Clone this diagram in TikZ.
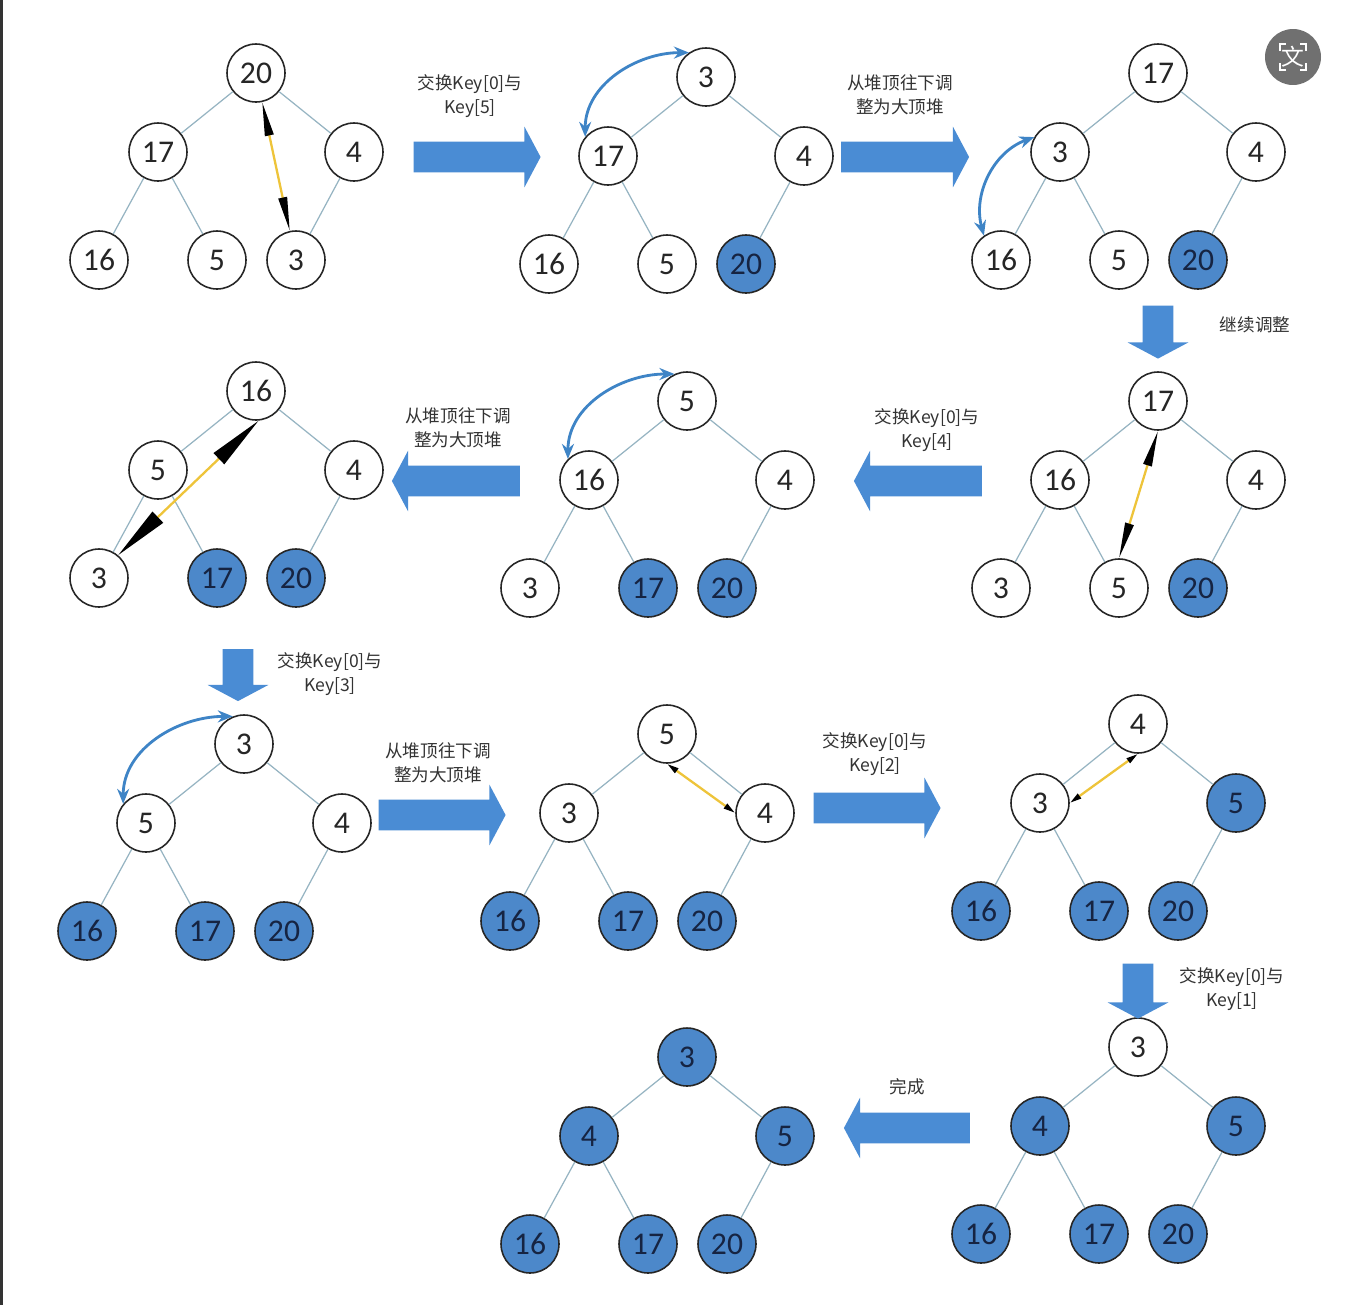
\documentclass[tikz,border=0pt]{standalone}
\usepackage{fontspec}
\setmainfont{Carlito}
\newfontfamily\cjk{Noto Sans CJK SC}
\usetikzlibrary{shapes.arrows,arrows.meta,positioning}
\definecolor{heapblue}{RGB}{76,136,202}
\definecolor{arrowblue}{RGB}{74,140,212}
\definecolor{curveblue}{RGB}{62,132,198}
\definecolor{linkgrey}{RGB}{150,180,194}
\definecolor{swapyellow}{RGB}{238,196,58}
\definecolor{navy}{RGB}{22,36,66}
\definecolor{icongrey}{RGB}{112,112,112}

% one heap: name, root x, root y, list of value/style (array order)
\newcommand{\heaptree}[4]{%
  \begin{scope}[shift={(#2,#3)}]
    \foreach \val/\sty [count=\k from 0] in {#4} {
      \pgfmathsetmacro{\dx}{{0,-98,98,-157,-39,40}[\k]}
      \pgfmathsetmacro{\dy}{{0,79,79,187,187,187}[\k]}
      \node[\sty] (#1-\k) at (\dx,\dy) {\val};
    }
    \draw[link] (#1-0) -- (#1-1) (#1-0) -- (#1-2)
                (#1-1) -- (#1-3) (#1-1) -- (#1-4) (#1-2) -- (#1-5);
  \end{scope}}

\begin{document}
\begin{tikzpicture}[x=0.02cm, y=-0.02cm,
    wnode/.style={circle, draw=black!85, line width=0.9pt, fill=white, minimum size=1.16cm,
                  inner sep=0pt, font=\fontsize{18}{20}\selectfont, text=black!85},
    bnode/.style={wnode, fill=heapblue, text=navy},
    link/.style={draw=linkgrey, line width=0.7pt},
    blockarrow/.style={single arrow, fill=arrowblue, draw=none, minimum width=1.2cm,
                       single arrow head extend=0.3cm, single arrow tip angle=124,
                       inner xsep=0pt, inner ysep=0.3cm},
    note/.style={font={\cjk\fontsize{10}{13.6}\selectfont}, align=center, text=black!80, inner sep=1pt},
    swapline/.style 2 args={draw=swapyellow, line width=1.3pt,
                  {Triangle[color=black,length=#1,width=#2]}-{Triangle[color=black,length=#1,width=#2]}},
    curl/.style={draw=curveblue, line width=1.6pt,
                 {Stealth[length=0.3cm,width=0.24cm]}-{Stealth[length=0.3cm,width=0.24cm]}}
]
    \useasboundingbox (0,0) rectangle (1353,1305);
    \fill[white] (0,0) rectangle (1353,1305);
    \fill[black!80] (0,0) rectangle (3,1305);

    % Row 1
    \heaptree{t1}{256}{73}{20/wnode,17/wnode,4/wnode,16/wnode,5/wnode,3/wnode}
    \heaptree{t2}{706}{77}{3/wnode,17/wnode,4/wnode,16/wnode,5/wnode,20/bnode}
    \heaptree{t3}{1158}{73}{17/wnode,3/wnode,4/wnode,16/wnode,5/wnode,20/bnode}

    % Row 2
    \heaptree{t4}{1158}{401}{17/wnode,16/wnode,4/wnode,3/wnode,5/wnode,20/bnode}
    \heaptree{t5}{687}{401}{5/wnode,16/wnode,4/wnode,3/wnode,17/bnode,20/bnode}
    \heaptree{t6}{256}{391}{16/wnode,5/wnode,4/wnode,3/wnode,17/bnode,20/bnode}

    % Row 3
    \heaptree{t7}{244}{744}{3/wnode,5/wnode,4/wnode,16/bnode,17/bnode,20/bnode}
    \heaptree{t8}{667}{734}{5/wnode,3/wnode,4/wnode,16/bnode,17/bnode,20/bnode}
    \heaptree{t9}{1138}{724}{4/wnode,3/wnode,5/bnode,16/bnode,17/bnode,20/bnode}

    % Row 4
    \heaptree{t10}{1138}{1047}{3/wnode,4/bnode,5/bnode,16/bnode,17/bnode,20/bnode}
    \heaptree{t11}{687}{1057}{3/bnode,4/bnode,5/bnode,16/bnode,17/bnode,20/bnode}

    % Swaps of key[0] with the last key
    \draw[swapline={0.68cm}{0.17cm}] (t1-0) -- (t1-5);
    \draw[swapline={0.72cm}{0.17cm}] (t4-0.south) -- (t4-4.north);
    \draw[swapline={1.1cm}{0.3cm}] (t6-0.275) -- (t6-3.50);
    \draw[swapline={0.24cm}{0.11cm}] (t8-0.south) -- (t8-2.west);
    \draw[swapline={0.24cm}{0.11cm}] (t9-0.south) -- (t9-1.east);

    % Sift-down exchanges
    \draw[curl] (t2-1.140) to[out=90,in=180] (t2-0.125);
    \draw[curl] (t3-1.150) to[out=200,in=105] (t3-3.125);
    \draw[curl] (t5-1.135) to[out=90,in=180] (t5-0.115);
    \draw[curl] (t7-1.140) to[out=90,in=180] (t7-0.112);

    % Step arrows
    \node[blockarrow, minimum height=2.54cm] (a1) at (473,157) {};
    \node[blockarrow, minimum height=2.56cm] (a2) at (901,157) {};
    \node[blockarrow, minimum height=1.06cm, rotate=-90] (a3) at (1158,328) {};
    \node[blockarrow, minimum height=2.56cm, rotate=180] (a4) at (922,481) {};
    \node[blockarrow, minimum height=2.56cm, rotate=180] (a5) at (460,481) {};
    \node[blockarrow, minimum height=1.04cm, rotate=-90] (a6) at (238,671) {};
    \node[blockarrow, minimum height=2.54cm] (a7) at (438,815) {};
    \node[blockarrow, minimum height=2.54cm] (a8) at (873,808) {};
    \node[blockarrow, minimum height=1.1cm, rotate=-90] (a9) at (1138,987) {};
    \node[blockarrow, minimum height=2.52cm, rotate=180] (a10) at (911,1128) {};

    % Step labels
    \node[note] (l1) at (470,96) {交换Key[0]与\\Key[5]};
    \node[note] (l2) at (900,95) {从堆顶往下调\\整为大顶堆};
    \node[note] (l3) at (1255,325) {继续调整};
    \node[note] (l4) at (927,430) {交换Key[0]与\\Key[4]};
    \node[note] (l5) at (458,428) {从堆顶往下调\\整为大顶堆};
    \node[note] (l6) at (330,674) {交换Key[0]与\\Key[3]};
    \node[note] (l7) at (438,763) {从堆顶往下调\\整为大顶堆};
    \node[note] (l8) at (875,754) {交换Key[0]与\\Key[2]};
    \node[note] (l9) at (1232,989) {交换Key[0]与\\Key[1]};
    \node[note] (l10) at (907,1087) {完成};

    % Translate badge
    \node[circle, fill=icongrey, minimum size=1.12cm, inner sep=0pt] (badge) at (1293,57) {};
    \node[text=white, font={\cjk\fontsize{13}{13}\selectfont}, inner sep=0pt] (badgetxt) at (badge) {文};
    \draw[white, line width=1pt]
        ([shift={(-13,-6)}]badge.center) -- ++(0,-7) -- ++(6,0)
        ([shift={(7,-13)}]badge.center) -- ++(6,0) -- ++(0,7)
        ([shift={(13,6)}]badge.center) -- ++(0,7) -- ++(-6,0)
        ([shift={(-7,13)}]badge.center) -- ++(-6,0) -- ++(0,-7);
\end{tikzpicture}
\end{document}
